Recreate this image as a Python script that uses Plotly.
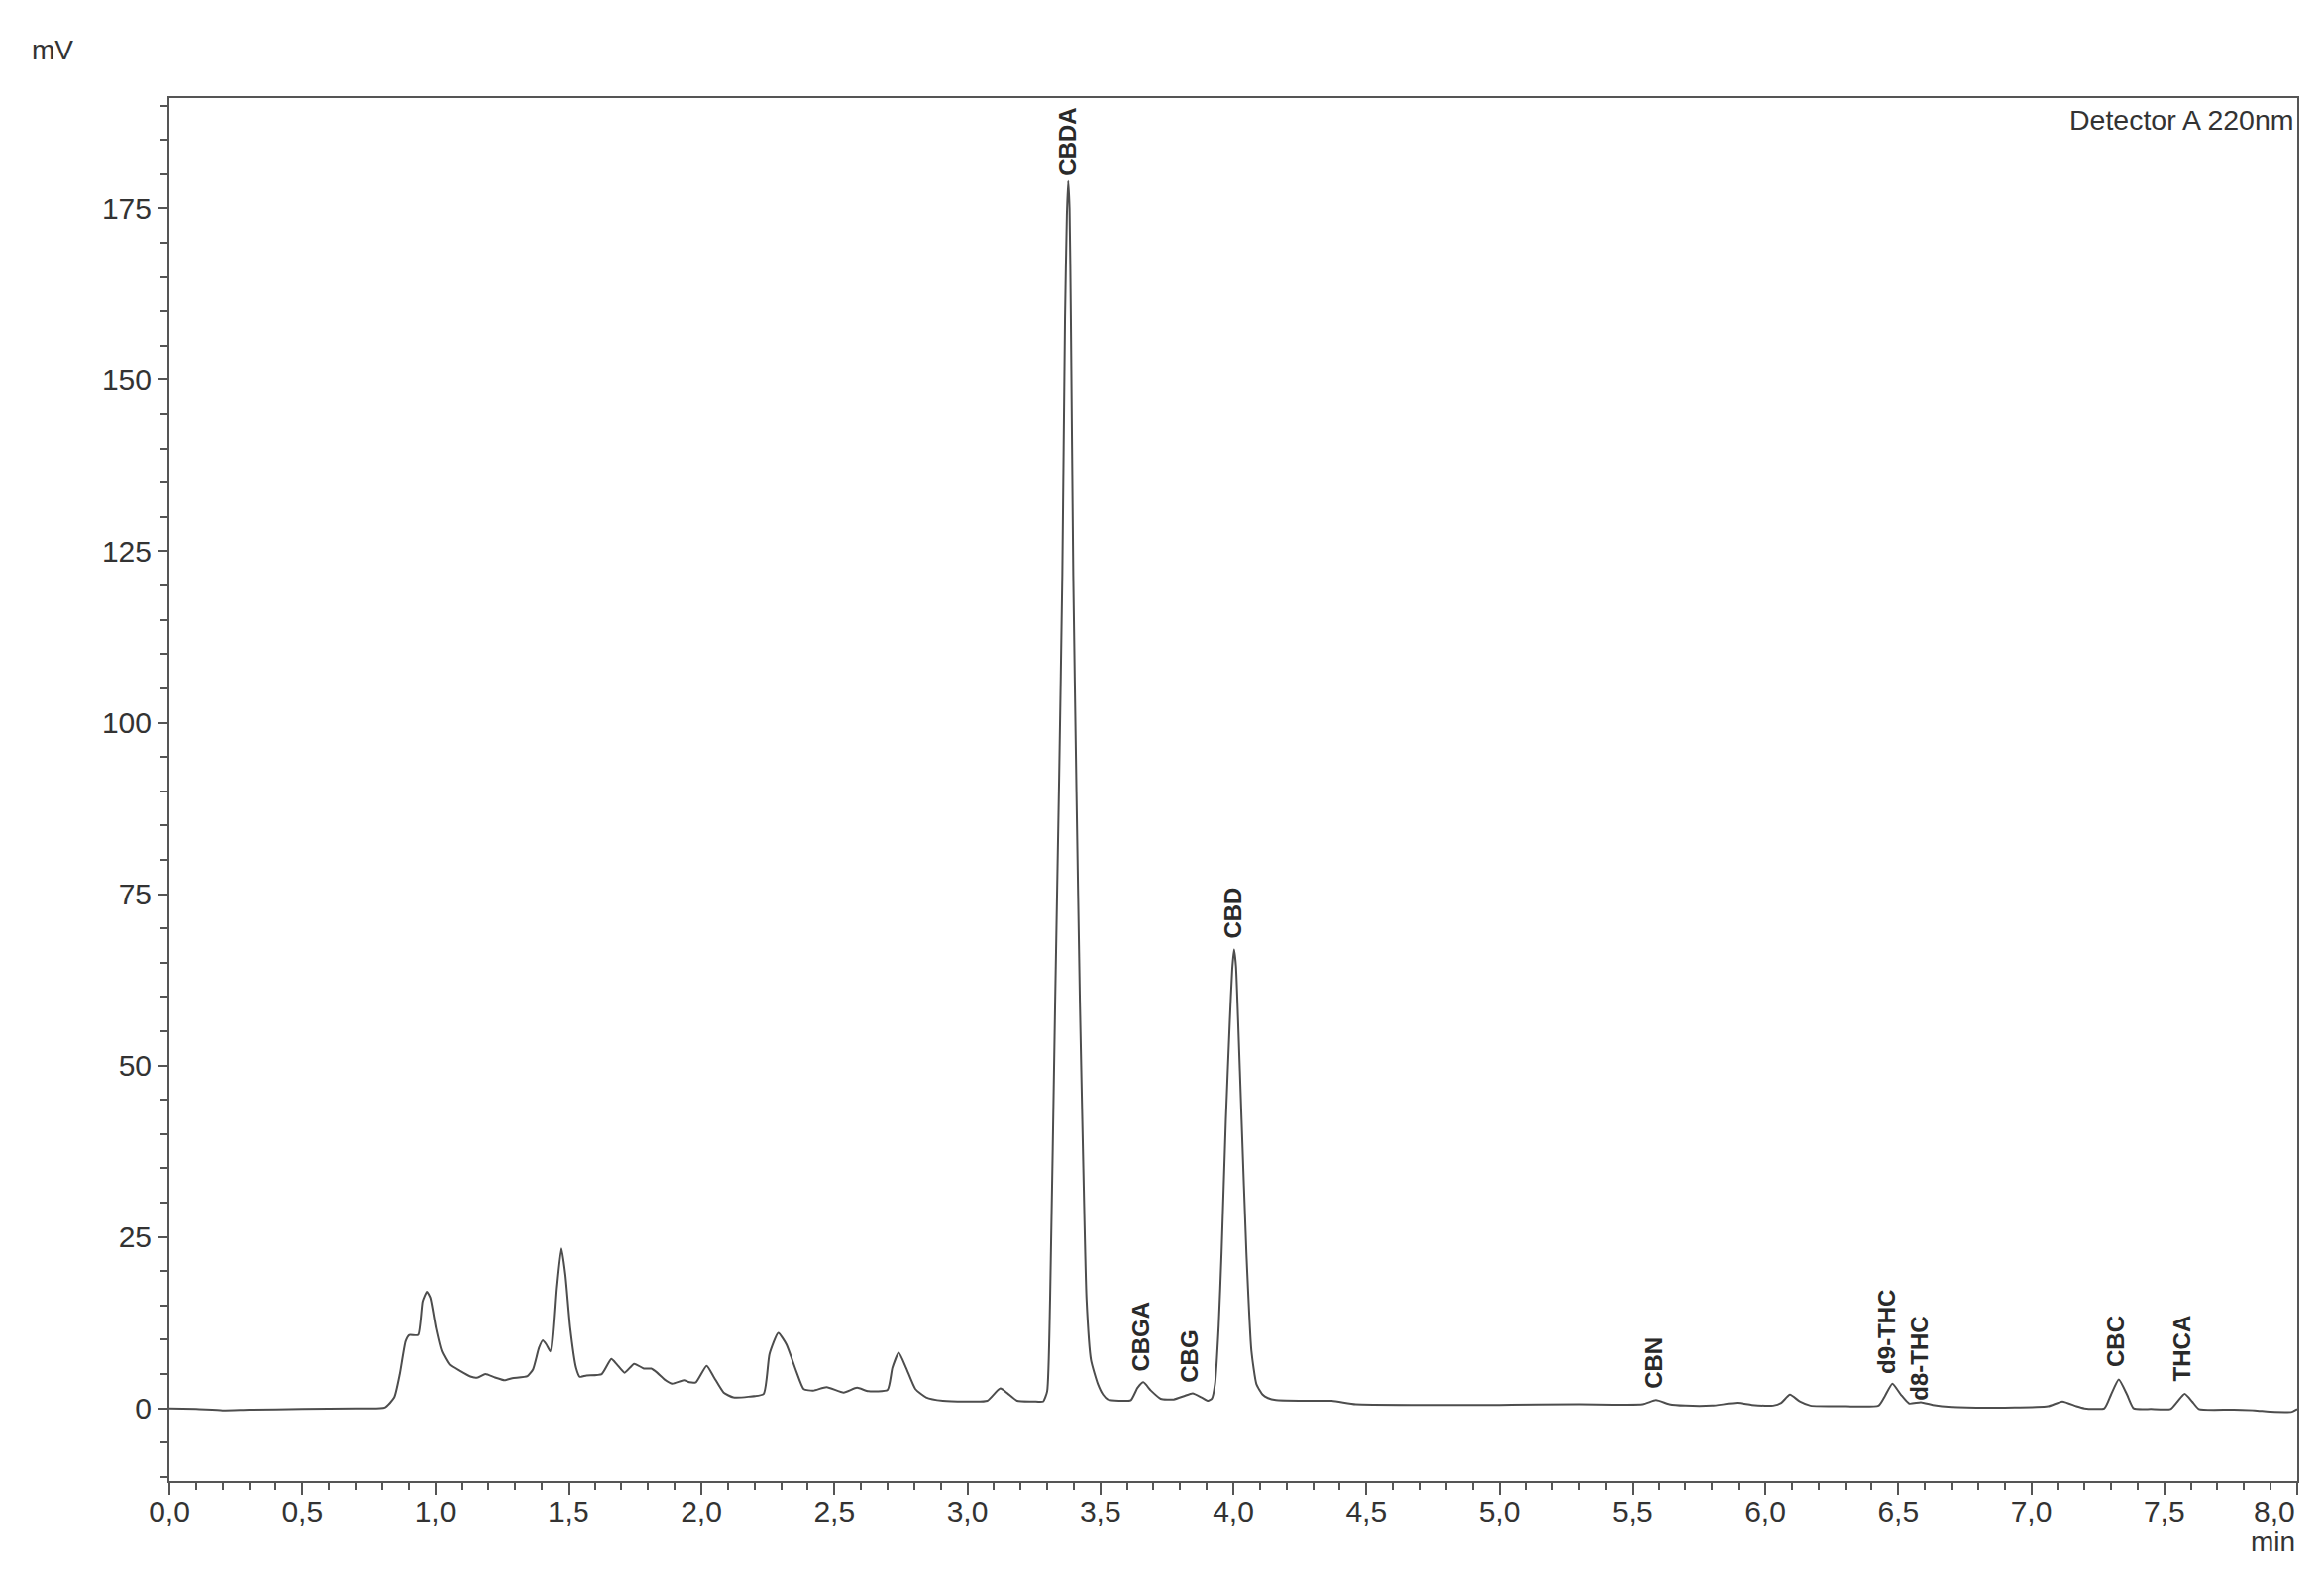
import plotly.graph_objects as go

# Chromatogram trace (time in min, signal in mV)
time_min = [
    0.00, 0.10, 0.20, 0.30, 0.50, 0.70, 0.81, 0.846, 0.867, 0.889, 0.903, 0.936, 0.953, 0.969, 0.982,
    1.003, 1.025, 1.053, 1.089, 1.132, 1.161, 1.189, 1.225, 1.261, 1.290, 1.347, 1.368, 1.390, 1.404,
    1.418, 1.433, 1.454, 1.471, 1.486, 1.504, 1.526, 1.540, 1.569, 1.626, 1.662, 1.683, 1.712, 1.748,
    1.784, 1.812, 1.834, 1.862, 1.891, 1.934, 1.955, 1.980, 2.020, 2.048, 2.084, 2.120, 2.177, 2.234,
    2.256, 2.289, 2.320, 2.356, 2.385, 2.421, 2.471, 2.535, 2.585, 2.628, 2.700, 2.718, 2.742, 2.770,
    2.805, 2.845, 2.908, 3.000, 3.075, 3.124, 3.187, 3.250, 3.285, 3.300, 3.311, 3.330, 3.345, 3.357,
    3.367, 3.374, 3.379, 3.384, 3.389, 3.398, 3.410, 3.423, 3.436, 3.448, 3.465, 3.491, 3.510, 3.528,
    3.570, 3.615, 3.640, 3.662, 3.690, 3.727, 3.776, 3.815, 3.847, 3.880, 3.905, 3.919, 3.931, 3.945,
    3.956, 3.972, 3.987, 3.996, 4.003, 4.010, 4.018, 4.031, 4.049, 4.068, 4.087, 4.110, 4.130, 4.160,
    4.250, 4.370, 4.460, 4.700, 5.000, 5.300, 5.540, 5.590, 5.640, 5.700, 5.800, 5.894, 5.950, 6.030,
    6.060, 6.093, 6.130, 6.170, 6.300, 6.426, 6.450, 6.478, 6.510, 6.541, 6.585, 6.630, 6.700, 6.900,
    7.063, 7.117, 7.170, 7.200, 7.275, 7.300, 7.329, 7.360, 7.385, 7.450, 7.524, 7.550, 7.577, 7.605,
    7.630, 7.750, 7.840, 7.900, 7.980, 8.000,
]
signal_mv = [
    0.0, -0.1, -0.3, -0.2, -0.1, 0.0, 0.1, 1.6, 5.0, 9.8, 10.7, 10.7, 15.6, 17.0, 16.1,
    11.7, 8.3, 6.4, 5.5, 4.6, 4.5, 5.0, 4.5, 4.1, 4.4, 4.7, 5.7, 8.8, 9.9,
    9.3, 8.3, 17.5, 23.3, 19.4, 11.7, 5.9, 4.6, 4.8, 5.0, 7.2, 6.4, 5.2, 6.5,
    5.8, 5.8, 5.2, 4.2, 3.6, 4.1, 3.8, 3.8, 6.2, 4.5, 2.3, 1.6, 1.7, 2.1,
    7.9, 11.0, 9.3, 5.5, 2.8, 2.6, 3.1, 2.3, 3.0, 2.5, 2.7, 5.9, 8.1, 5.9,
    2.8, 1.6, 1.1, 1.0, 1.1, 2.9, 1.1, 1.0, 1.0, 2.5, 15.9, 59.4, 92.0, 121.6,
    159.0, 174.0, 179.0, 175.0, 159.0, 121.6, 90.0, 59.4, 35.0, 15.9, 7.0, 3.5, 2.0, 1.3,
    1.1, 1.2, 3.0, 3.8, 2.6, 1.4, 1.3, 1.8, 2.2, 1.6, 1.1, 1.4, 3.5, 12.0,
    22.8, 42.1, 56.6, 64.0, 66.9, 64.5, 56.6, 42.1, 22.8, 8.4, 3.5, 2.0, 1.5, 1.2,
    1.1, 1.1, 0.6, 0.5, 0.5, 0.6, 0.6, 1.2, 0.6, 0.4, 0.4, 0.8, 0.5, 0.4,
    0.8, 2.0, 1.0, 0.4, 0.3, 0.4, 1.8, 3.6, 2.0, 0.7, 0.9, 0.5, 0.2, 0.1,
    0.3, 1.0, 0.3, 0.0, 0.0, 2.0, 4.2, 2.0, 0.0, -0.1, -0.1, 1.0, 2.1, 1.0,
    -0.1, -0.2, -0.3, -0.5, -0.5, -0.1,
]

# Peak labels: name, retention time, label base height (mV)
peak_names = ["CBDA", "CBGA", "CBG", "CBD", "CBN", "d9-THC", "d8-THC", "CBC", "THCA"]
peak_times = [3.375, 3.650, 3.833, 4.000, 5.580, 6.458, 6.580, 7.314, 7.565]
peak_label_mv = [179.4, 5.0, 3.4, 68.2, 2.6, 4.8, 0.9, 5.7, 3.6]

x_ticks = [0.0, 0.5, 1.0, 1.5, 2.0, 2.5, 3.0, 3.5, 4.0, 4.5, 5.0, 5.5, 6.0, 6.5, 7.0, 7.5, 8.0]
y_ticks = [0, 25, 50, 75, 100, 125, 150, 175]

# decimal-comma labels; the last one is drawn right-aligned to the frame
x_ticktext = [("%.1f" % v).replace(".", ",") for v in x_ticks]
last_label = x_ticktext[-1]
x_ticktext[-1] = ""

FONT = "Liberation Sans, Arial, sans-serif"
INK = "#333333"
LINE = "#555555"

fig = go.Figure()
fig.add_trace(go.Scatter(
    x=time_min, y=signal_mv, mode="lines",
    line=dict(color="#4d4d4d", width=2, shape="spline", smoothing=0.5),
    showlegend=False, hoverinfo="skip",
))

annotations = []
for name, t, v in zip(peak_names, peak_times, peak_label_mv):
    annotations.append(dict(
        x=t, y=v, xref="x", yref="y", text="<b>%s</b>" % name,
        textangle=-90, showarrow=False, xanchor="center", yanchor="bottom",
        font=dict(family=FONT, size=24, color="#2a2a2a"),
    ))

annotations += [
    dict(x=-0.0549, y=1.0344, xref="paper", yref="paper", text="mV", showarrow=False,
         xanchor="center", yanchor="middle", font=dict(family=FONT, size=28, color=INK)),
    dict(x=1.0, y=-0.0444, xref="paper", yref="paper", text="min", showarrow=False,
         xanchor="right", yanchor="middle", font=dict(family=FONT, size=28, color=INK)),
    dict(x=1.0, y=-0.0222, xref="paper", yref="paper", text=last_label, showarrow=False,
         xanchor="right", yanchor="middle", font=dict(family=FONT, size=30, color=INK)),
    dict(x=0.9995, y=0.9842, xref="paper", yref="paper", text="Detector A 220nm", showarrow=False,
         xanchor="right", yanchor="middle", font=dict(family=FONT, size=28.5, color=INK)),
]

fig.update_layout(
    width=2338, height=1591,
    margin=dict(l=163, r=27, t=91, b=104),
    paper_bgcolor="white", plot_bgcolor="white",
    font=dict(family=FONT, size=30, color=INK),
    annotations=annotations,
    xaxis=dict(
        range=[0, 8.0], tickvals=x_ticks, ticktext=x_ticktext,
        ticks="outside", ticklen=12, tickwidth=2, tickcolor=LINE,
        ticklabelstandoff=-9,
        minor=dict(dtick=0.1, tick0=0, ticks="outside", ticklen=7, tickwidth=1.5, tickcolor=LINE),
        showline=True, linecolor=LINE, linewidth=2, mirror=True,
        showgrid=False, zeroline=False,
        tickfont=dict(family=FONT, size=30, color=INK),
    ),
    yaxis=dict(
        range=[-10.6, 191.1], tickvals=y_ticks,
        ticks="outside", ticklen=10, tickwidth=2, tickcolor=LINE,
        minor=dict(dtick=5, tick0=0, ticks="outside", ticklen=7, tickwidth=1.5, tickcolor=LINE),
        showline=True, linecolor=LINE, linewidth=2, mirror=True,
        showgrid=False, zeroline=False,
        tickfont=dict(family=FONT, size=30, color=INK),
    ),
)

fig.write_html("out.html")
